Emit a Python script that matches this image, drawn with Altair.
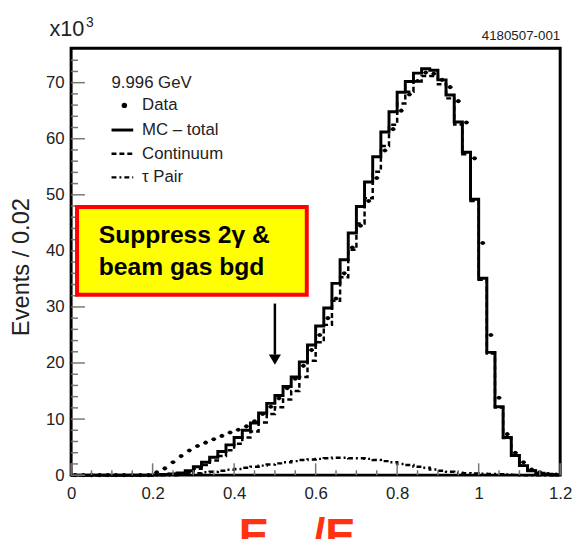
import altair as alt
import pandas as pd

# ---------------- data (thousands of events per 0.02 bin) ----------------
bin_edges = [round(0.02 * i, 2) for i in range(61)]
bin_centers = [round(0.01 + 0.02 * i, 2) for i in range(60)]

mc_total = [0, 0, 0, 0, 0, 0, 0, 0, 0, 0,
            0.05, 0.1, 0.2, 0.4, 0.8, 1.5, 2.3, 3.2, 4.2, 5.4,
            6.7, 8.0, 9.3, 11.1, 12.8, 14.2, 15.8, 17.5, 20.2, 23.2,
            26.6, 29.8, 34.2, 38.4, 43.2, 47.9, 52.3, 56.8, 61.2, 64.8,
            68.3, 70.2, 71.7, 72.5, 72.2, 70.5, 67.8, 63.0, 57.6, 49.2,
            35.1, 21.9, 12.2, 6.7, 3.5, 1.7, 0.8, 0.35, 0.15, 0.05]

continuum = [0, 0, 0, 0, 0, 0, 0, 0, 0, 0,
             0.05, 0.1, 0.2, 0.3, 0.6, 1.15, 1.8, 2.6, 3.4, 4.45,
             5.6, 6.7, 7.8, 9.4, 10.9, 12.1, 13.5, 15.0, 17.5, 20.4,
             23.7, 26.8, 31.1, 35.3, 40.2, 44.9, 49.4, 54.1, 58.7, 62.5,
             66.3, 68.4, 70.2, 71.2, 71.2, 69.7, 67.2, 62.55, 57.25, 48.9,
             34.85, 21.7, 12.05, 6.6, 3.45, 1.7, 0.8, 0.35, 0.15, 0.05]

tau_pair = [0, 0, 0, 0, 0, 0, 0, 0, 0, 0,
            0, 0, 0, 0.1, 0.2, 0.35, 0.5, 0.6, 0.8, 0.95,
            1.1, 1.3, 1.5, 1.7, 1.9, 2.1, 2.3, 2.5, 2.7, 2.8,
            2.9, 3.0, 3.1, 3.1, 3.0, 3.0, 2.9, 2.7, 2.5, 2.3,
            2.0, 1.8, 1.5, 1.3, 1.0, 0.8, 0.6, 0.45, 0.35, 0.3,
            0.25, 0.2, 0.15, 0.1, 0.05, 0, 0, 0, 0, 0]

data_vals = [0, 0, 0, 0, 0, 0, 0, 0, 0, 0,
             0.5, 1.2, 2.3, 3.4, 4.4, 5.2, 5.8, 6.4, 7.0, 7.6,
             8.1, 8.7, 9.6, 10.9, 12.2, 13.7, 15.5, 17.2, 19.5, 22.3,
             25.0, 28.0, 31.5, 36.0, 40.6, 44.5, 48.9, 53.0, 57.9, 61.7,
             65.0, 67.9, 70.3, 71.8, 71.6, 70.5, 69.2, 66.7, 62.9, 56.5,
             41.4, 25.0, 13.8, 7.3, 4.0, 2.3, 1.0, 0.5, 0.2, 0.1]

x_major = [0, 0.2, 0.4, 0.6, 0.8, 1.0, 1.2]
x_minor = [0.05, 0.1, 0.15, 0.25, 0.3, 0.35, 0.45, 0.5, 0.55, 0.65, 0.7, 0.75,
           0.85, 0.9, 0.95, 1.05, 1.1, 1.15]
y_major = [0, 10, 20, 30, 40, 50, 60, 70]
y_minor = [2, 4, 6, 8, 12, 14, 16, 18, 22, 24, 26, 28, 32, 34, 36, 38,
           42, 44, 46, 48, 52, 54, 56, 58, 62, 64, 66, 68, 72, 74]

legend_title = "9.996 GeV"
legend_labels = ["Data", "MC \u2013 total", "Continuum", "\u03c4 Pair"]
box_lines = ["Suppress 2\u03b3 &", "beam gas bgd"]
arrow_x = [0.5]
arrow_y = [30.6, 21.5]
arrow_head = [20.6]

# ---------------- layout ----------------
W, H = 496, 433
FONT = "Liberation Sans"
xs = alt.Scale(domain=[0, 1.2], nice=False, zero=False)
ys = alt.Scale(domain=[0, 76.15], nice=False, zero=False)
XAX = alt.Axis(values=x_major, format="~g", title=None, ticks=False, domain=False, grid=False,
               labelFlush=False, labelOverlap=False,
               labelFont=FONT, labelFontSize=17, labelColor="#222", labelPadding=11)
YAX = alt.Axis(values=y_major, format="d", title=None, ticks=False, domain=False, grid=False,
               labelFlush=False, labelOverlap=False,
               labelFont=FONT, labelFontSize=17, labelColor="#222", labelPadding=7)


def X(f):
    return alt.X(f, scale=xs, axis=XAX)


def Y(f):
    return alt.Y(f, scale=ys, axis=YAX)


def step_df(vals):
    return pd.DataFrame({"x": bin_edges, "y": vals + [vals[-1]]})


def txt(s, x, y, size, **kw):
    return alt.Chart(pd.DataFrame({"t": [s]})).mark_text(
        font=FONT, fontSize=size, **kw
    ).encode(x=alt.value(x), y=alt.value(y), text="t:N")


mc = alt.Chart(step_df(mc_total)).mark_line(
    interpolate="step-after", color="black", strokeWidth=3
).encode(x=X("x:Q"), y=Y("y:Q"))

cont = alt.Chart(step_df(continuum)).mark_line(
    interpolate="step-after", color="black", strokeWidth=2.5, strokeDash=[5, 3]
).encode(x=X("x:Q"), y=Y("y:Q"))

tau = alt.Chart(step_df(tau_pair)).mark_line(
    interpolate="step-after", color="black", strokeWidth=2.5, strokeDash=[5, 3, 2, 3]
).encode(x=X("x:Q"), y=Y("y:Q"))

ddf = pd.DataFrame({"x": bin_centers, "y": data_vals})
dots = alt.Chart(ddf).mark_circle(size=18, color="black", opacity=1).encode(
    x=X("x:Q"), y=Y("y:Q"))
hbars = alt.Chart(ddf).transform_calculate(
    lo="datum.x - 0.006", hi="datum.x + 0.006"
).mark_rule(color="black", strokeWidth=1.5).encode(
    x=X("lo:Q"), x2="hi:Q", y=Y("y:Q"))

# inside ticks
tick_col = "#777"
xt_major = alt.Chart(pd.DataFrame({"v": x_major})).mark_rule(color=tick_col, strokeWidth=1.5).encode(
    x=X("v:Q"), y=alt.value(H), y2=alt.value(H - 12))
xt_minor = alt.Chart(pd.DataFrame({"v": x_minor})).mark_rule(color=tick_col, strokeWidth=1.5).encode(
    x=X("v:Q"), y=alt.value(H), y2=alt.value(H - 5))
yt_major = alt.Chart(pd.DataFrame({"v": y_major})).mark_rule(color=tick_col, strokeWidth=1.5).encode(
    y=Y("v:Q"), x=alt.value(0), x2=alt.value(14))
yt_minor = alt.Chart(pd.DataFrame({"v": y_minor})).mark_rule(color=tick_col, strokeWidth=1.5).encode(
    y=Y("v:Q"), x=alt.value(0), x2=alt.value(7))

# legend
leg = [
    txt(legend_title, 41, 35, 17, align="left", baseline="middle", color="#222"),
    alt.Chart(pd.DataFrame({"t": [legend_labels[0]]})).mark_circle(size=30, color="black", opacity=1).encode(
        x=alt.value(54), y=alt.value(58)),
    txt(legend_labels[0], 72, 58, 17, align="left", baseline="middle", color="#222"),
    alt.Chart(pd.DataFrame({"t": [legend_labels[1]]})).mark_rule(color="black", strokeWidth=3).encode(
        x=alt.value(41), x2=alt.value(63), y=alt.value(83)),
    txt(legend_labels[1], 72, 83, 17, align="left", baseline="middle", color="#222"),
    alt.Chart(pd.DataFrame({"t": [legend_labels[2]]})).mark_rule(color="black", strokeWidth=2.5, strokeDash=[5, 3]).encode(
        x=alt.value(41), x2=alt.value(63), y=alt.value(107)),
    txt(legend_labels[2], 72, 107, 17, align="left", baseline="middle", color="#222"),
    alt.Chart(pd.DataFrame({"t": [legend_labels[3]]})).mark_rule(color="black", strokeWidth=2.5, strokeDash=[5, 3, 2, 3]).encode(
        x=alt.value(41), x2=alt.value(63), y=alt.value(131)),
    txt(legend_labels[3], 72, 131, 17, align="left", baseline="middle", color="#222"),
]

# annotation box + arrow
box = alt.Chart(pd.DataFrame({"t": [box_lines[0]]})).mark_rect(
    fill="#ffff00", stroke="#ff0000", strokeWidth=4
).encode(x=alt.value(6), x2=alt.value(239), y=alt.value(161), y2=alt.value(250))
box_t1 = txt(box_lines[0], 28, 190, 25, align="left", baseline="middle", fontWeight="bold", color="black")
box_t2 = txt(box_lines[1], 28, 222, 25, align="left", baseline="middle", fontWeight="bold", color="black")

arrow_line = alt.Chart(pd.DataFrame({"x": arrow_x * 2, "y": arrow_y})).mark_line(
    color="black", strokeWidth=2.5
).encode(x=X("x:Q"), y=Y("y:Q"))
arrow_tip = alt.Chart(pd.DataFrame({"x": arrow_x, "y": arrow_head})).mark_point(
    shape="triangle-down", size=150, filled=True, color="black", opacity=1
).encode(x=X("x:Q"), y=Y("y:Q"))

# outside texts
extras = [
    txt("x10", -22, -12, 22, align="left", baseline="alphabetic", color="#222"),
    txt("3", 15, -21, 14, align="left", baseline="alphabetic", color="#222"),
    txt("4180507-001", 496, -8, 13.5, align="right", baseline="alphabetic", color="#222"),
    txt("Events / 0.02", -50, 222, 24, align="center", baseline="middle", angle=270, color="#222"),
    txt("E", 170, 510, 46, align="left", baseline="alphabetic", fontWeight="bold", color="#ff3311"),
    txt("vis", 202, 493, 12, align="left", baseline="alphabetic", fontWeight="bold", color="#ffffff", opacity=0),
    txt("/E", 245, 510, 46, align="left", baseline="alphabetic", fontWeight="bold", color="#ff3311"),
]

chart = alt.layer(
    mc, tau, cont, hbars, dots,
    xt_major, xt_minor, yt_major, yt_minor,
    *leg, box, box_t1, box_t2, arrow_line, arrow_tip, *extras
).properties(
    width=W, height=H,
    padding={"left": 64, "top": 37, "right": 13, "bottom": 61},
    autosize=alt.AutoSizeParams(type="none"),
).configure_view(stroke="black", strokeWidth=3)

chart.save("out.html", embed_options={"renderer": "svg", "actions": False})
